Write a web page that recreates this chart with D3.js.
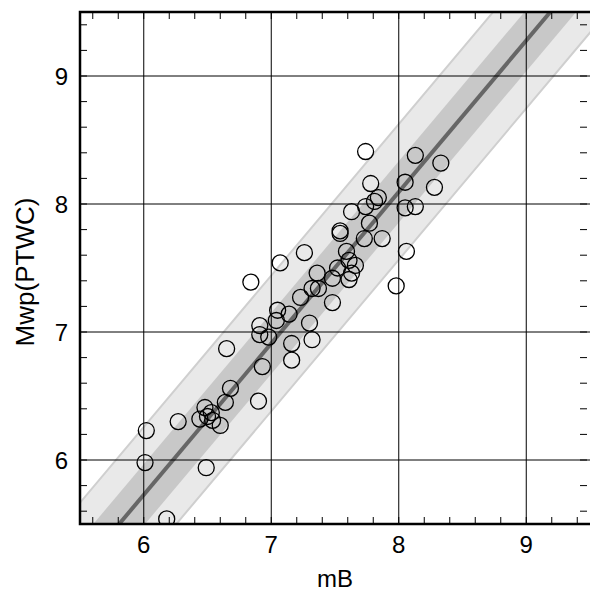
<!DOCTYPE html>
<html><head><meta charset="utf-8">
<script src="https://cdn.jsdelivr.net/npm/d3@7"></script>
<style>body{margin:0;background:#fff}</style>
</head><body><div></div>
<script>
const mB = [6.02,6.01,6.27,6.18,6.49,6.48,6.44,6.53,6.50,6.54,6.60,6.64,6.68,6.90,6.65,6.93,6.91,6.91,6.98,7.04,
  7.05,7.14,7.16,7.16,7.30,7.32,7.23,7.32,7.37,7.36,7.48,7.48,6.84,7.07,7.26,7.54,7.54,7.59,7.61,7.66,
  7.52,7.63,7.61,7.73,7.87,7.77,8.06,7.98,7.74,8.13,8.33,7.78,7.84,7.81,8.05,8.28,7.74,7.63,8.05,8.13];
const mwp = [6.23,5.98,6.30,5.54,5.94,6.41,6.32,6.37,6.34,6.31,6.27,6.45,6.56,6.46,6.87,6.73,6.98,7.05,6.96,7.09,
  7.17,7.14,6.78,6.91,7.07,6.94,7.27,7.34,7.34,7.46,7.23,7.42,7.39,7.54,7.62,7.79,7.77,7.63,7.56,7.52,
  7.50,7.46,7.41,7.73,7.73,7.85,7.63,7.36,8.41,8.38,8.32,8.16,8.05,8.02,8.17,8.13,7.98,7.94,7.97,7.98];
const ticks = [6, 7, 8, 9];
// fit line mwp = a + b*mB and its bands (vertical half-widths)
const fitA = -1.37, fitB = 1.183, inner = 0.24, outer = 0.53;

const width = 590, height = 591;
const L = 80, R = 590, T = 12, B = 524;
const x = d3.scaleLinear().domain([5.5, 9.5]).range([L, R]);
const y = d3.scaleLinear().domain([5.5, 9.5]).range([B, T]);
const fit = v => fitA + fitB * v;

const svg = d3.select("div").append("svg").attr("width", width).attr("height", height);
svg.append("clipPath").attr("id", "clip").append("rect")
    .attr("x", L).attr("y", T).attr("width", R - L).attr("height", B - T);
const g = svg.append("g").attr("clip-path", "url(#clip)");

function band(w, fill, stroke) {
    const xs = [5, 10];
    const pts = xs.map(v => [x(v), y(fit(v) + w)]).concat(xs.slice().reverse().map(v => [x(v), y(fit(v) - w)]));
    g.append("path").attr("d", "M" + pts.join("L") + "Z").attr("fill", fill)
        .attr("stroke", stroke || "none").attr("stroke-width", 2);
}
band(outer, "#e9e9e9", "#cfcfcf");
band(inner, "#c8c8c8");
g.append("line").attr("x1", x(5)).attr("y1", y(fit(5))).attr("x2", x(10)).attr("y2", y(fit(10)))
    .attr("stroke", "#666").attr("stroke-width", 4);

// grid
ticks.forEach(t => {
    g.append("line").attr("x1", x(t)).attr("x2", x(t)).attr("y1", T).attr("y2", B).attr("stroke", "#000");
    g.append("line").attr("y1", y(t)).attr("y2", y(t)).attr("x1", L).attr("x2", R).attr("stroke", "#000");
});

g.selectAll("circle").data(mB).join("circle")
    .attr("cx", d => x(d)).attr("cy", (d, i) => y(mwp[i])).attr("r", 8)
    .attr("fill", "none").attr("stroke", "#000").attr("stroke-width", 1.3);

// minor ticks
const minor = d3.range(5.6, 9.5, 0.2);
minor.forEach(v => {
    svg.append("line").attr("x1", x(v)).attr("x2", x(v)).attr("y1", B).attr("y2", B - 7).attr("stroke", "#000");
    svg.append("line").attr("x1", x(v)).attr("x2", x(v)).attr("y1", T).attr("y2", T + 7).attr("stroke", "#000");
    svg.append("line").attr("y1", y(v)).attr("y2", y(v)).attr("x1", L).attr("x2", L + 7).attr("stroke", "#000");
    svg.append("line").attr("y1", y(v)).attr("y2", y(v)).attr("x1", R - 3).attr("x2", R - 10).attr("stroke", "#000");
});

svg.append("path").attr("d", `M${R},${T}H${L}V${B}H${R}`).attr("fill", "none")
    .attr("stroke", "#000").attr("stroke-width", 2.5);

const font = "Liberation Sans, Arial, sans-serif";
ticks.forEach(t => {
    svg.append("text").attr("x", x(t)).attr("y", 553).attr("text-anchor", "middle")
        .attr("font-family", font).attr("font-size", 24).text(t);
    svg.append("text").attr("x", L - 12).attr("y", y(t) + 8.5).attr("text-anchor", "end")
        .attr("font-family", font).attr("font-size", 24).text(t);
});
svg.append("text").attr("x", 335).attr("y", 587).attr("text-anchor", "middle")
    .attr("font-family", font).attr("font-size", 24).text("mB");
svg.append("text").attr("transform", `translate(34,272) rotate(-90)`).attr("text-anchor", "middle")
    .attr("font-family", font).attr("font-size", 26).text("Mwp(PTWC)");
</script></body></html>
